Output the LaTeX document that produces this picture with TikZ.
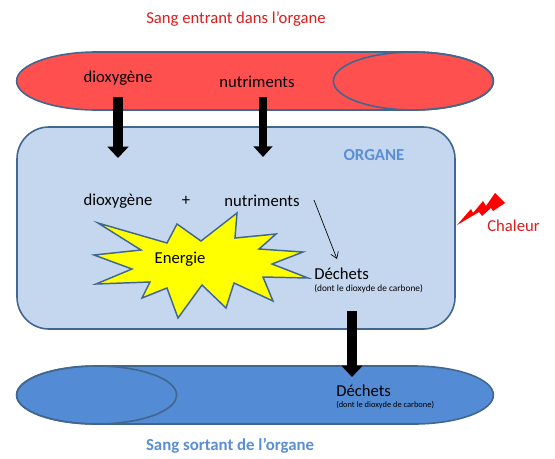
\documentclass[tikz,border=0pt]{standalone}
\usepackage{fontspec}
\setmainfont{Carlito}
\usetikzlibrary{arrows.meta}
\definecolor{BLRed}{HTML}{FF5050}
\definecolor{BLBlue}{HTML}{538CD5}
\definecolor{BLOrgan}{HTML}{C5D7EF}
\definecolor{BLEdge}{HTML}{41678F}
\definecolor{BLTitleRed}{HTML}{DD1C1C}
\definecolor{BLTitleBlue}{HTML}{5B8FD3}
\definecolor{BLStar}{HTML}{FFFF00}
\tikzset{
  tube/.style={draw=BLEdge,line width=1.2pt},
  organ/.style={draw=BLEdge,line width=1.2pt,fill=BLOrgan,rounded corners=24pt,
                minimum width=328.5pt,minimum height=151.5pt,inner sep=0pt},
  burst/.style={draw=BLEdge,line width=1.1pt,fill=BLStar,line join=miter},
  bolt/.style={fill=red,draw=none},
  transfer/.style={-{Triangle[length=8.5pt,width=15.5pt]},black,line width=7.6pt},
  transferthin/.style={-{Triangle[length=8pt,width=14pt]},black,line width=6.6pt},
  reaction/.style={-{Straight Barb[length=4.5pt,width=6pt]},black,line width=.5pt},
  label/.style={text=black,font=\fontsize{12.5}{15}\selectfont,inner sep=0pt},
  biglabel/.style={text=black,font=\fontsize{12.5}{15}\selectfont,inner sep=0pt},
  sublabel/.style={text=black,font=\fontsize{7}{8.5}\selectfont,inner sep=0pt},
  titlered/.style={text=BLTitleRed,font=\fontsize{12.5}{15}\selectfont,inner sep=0pt},
  titleblue/.style={text=BLTitleBlue,font=\fontsize{12.6}{15}\selectfont\bfseries,inner sep=0pt},
}
\begin{document}
\begin{tikzpicture}[x=.75pt,y=-.75pt]
    \useasboundingbox (0,0) rectangle (555,458);
    \fill[white] (0,0) rectangle (555,458);

    \node[titlered] (titlein) at (236,19) {Sang entrant dans l’organe};

    % vessel in
    \draw[tube,fill=BLRed] (96.6,52) -- (413.4,52)
      arc[start angle=-90,end angle=90,x radius=80,y radius=29]
      -- (96.6,110)
      arc[start angle=90,end angle=270,x radius=80,y radius=29] -- cycle;
    \draw[tube] (413.4,81) ellipse[x radius=80,y radius=29];
    \node[label] (oxin) at (118,78) {dioxygène};
    \node[label] (foodin) at (257,82) {nutriments};

    % organ
    \node[organ] (organ) at (236,228) {};
    \node[titleblue] (organname) at (374,155) {ORGANE};
    \node[label] (ox) at (118,201) {dioxygène};
    \node[label] (plus) at (186,201) {+};
    \node[label] (food) at (262,201) {nutriments};

    \draw[burst] (98,223) -- (167,243) -- (177,224) -- (201,241) -- (237,213)
      -- (235,238) -- (276,234) -- (259,249) -- (303,252) -- (272,264)
      -- (308,278) -- (263,277) -- (273,301) -- (234,283) -- (226,308)
      -- (202,285) -- (178,318) -- (167,288) -- (142,298) -- (150,282)
      -- (96,284) -- (132,269) -- (94,255) -- (141,250) -- cycle;
    \node[label] (energy) at (180,259) {Energie};

    \node[biglabel,anchor=west] (waste) at (314,274) {Déchets};
    \node[sublabel,anchor=west] (wastenote) at (314,289) {(dont le dioxyde de carbone)};

    % heat
    \draw[bolt] (457,225) -- (471,209) -- (473,213) -- (483,201) -- (486,206)
      -- (495,193) -- (505,203) -- (493,211) -- (491,208) -- (482,216)
      -- (479,212) -- cycle;
    \node[titlered] (heat) at (513.5,226) {Chaleur};

    % vessel out
    \draw[tube,fill=BLBlue] (96.6,366) -- (413.4,366)
      arc[start angle=-90,end angle=90,x radius=80,y radius=29]
      -- (96.6,424)
      arc[start angle=90,end angle=270,x radius=80,y radius=29] -- cycle;
    \draw[tube] (96.6,395) ellipse[x radius=80,y radius=29];
    \node[biglabel,anchor=west] (wasteout) at (336,391) {Déchets};
    \node[sublabel,font=\fontsize{6.3}{7.5}\selectfont,anchor=west] (wasteoutnote) at (336,405) {(dont le dioxyde de carbone)};
    \node[titleblue] (titleout) at (230,446) {Sang sortant de l’organe};

    % arrows
    \coordinate (oxstart) at (118,97);
    \coordinate (oxend) at (118,158);
    \coordinate (foodstart) at (263,97);
    \coordinate (foodend) at (263,157);
    \coordinate (wastestart) at (352,311);
    \coordinate (wasteend) at (352,377);
    \coordinate (reactstart) at (314,200);
    \coordinate (reactend) at (337,259);
    \draw[transfer] (oxstart) -- (oxend);
    \draw[transferthin] (foodstart) -- (foodend);
    \draw[transfer] (wastestart) -- (wasteend);
    \draw[reaction] (reactstart) -- (reactend);
  \end{tikzpicture}
\end{document}
